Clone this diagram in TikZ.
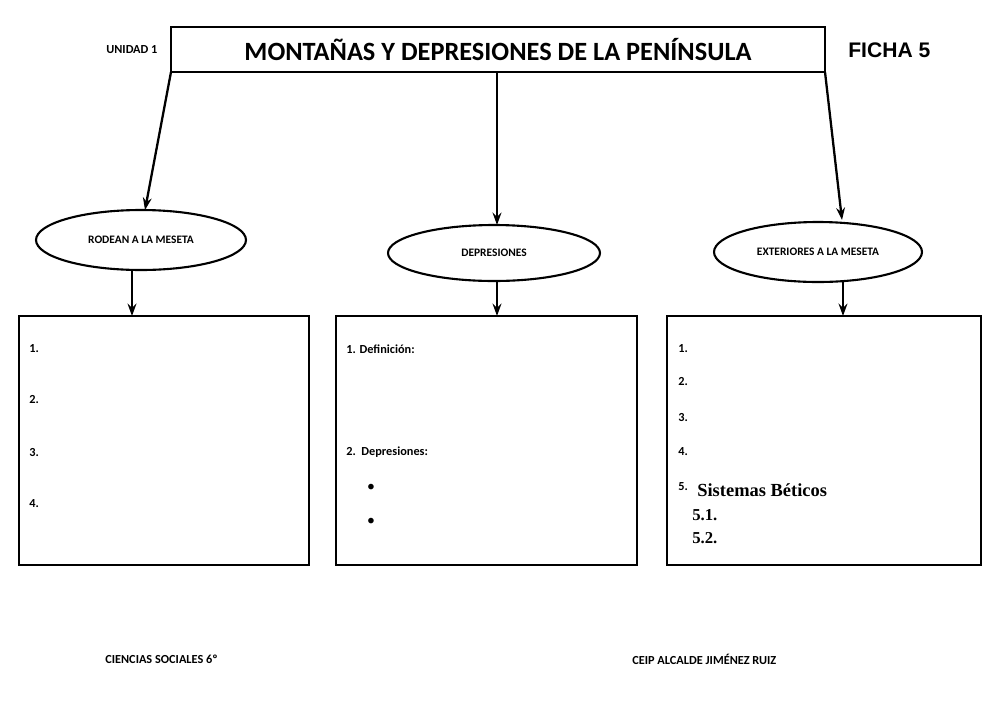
\documentclass[tikz,border=0pt]{standalone}
\usepackage{fontspec}
\setmainfont{Carlito}
\newfontfamily\serifb{Liberation Serif}
\newfontfamily\arialf{Liberation Sans}
\usetikzlibrary{shapes.geometric,arrows.meta}
\begin{document}
\begin{tikzpicture}[x=0.02cm,y=-0.02cm,
  arr/.style={draw,line width=1.3pt,-{Stealth[length=7pt,width=5pt]}},
  ell/.style={draw,line width=1.2pt,ellipse,inner sep=0pt,font=\bfseries\fontsize{6.5}{7}\selectfont},
  bx/.style={draw,line width=1.2pt,rectangle},
  lbl/.style={anchor=west,font=\bfseries\fontsize{7}{8}\selectfont,inner sep=0pt}]
\useasboundingbox (0,0) rectangle (1000,707);
\fill[white] (0,0) rectangle (1000,707);
\node[bx,minimum width=13.08cm,minimum height=0.9cm,font=\bfseries\fontsize{15}{17}\selectfont] (title) at (498,49.5) {MONTAÑAS Y DEPRESIONES DE LA PENÍNSULA};
\node[lbl] (u) at (106,50) {UNIDAD 1};
\node[anchor=west,inner sep=0pt,font=\arialf\bfseries\fontsize{12}{14}\selectfont] (f) at (848,50) {FICHA 5};
\node[ell,minimum width=4.2cm,minimum height=1.2cm] (e1) at (141,240) {RODEAN A LA MESETA};
\node[ell,minimum width=4.24cm,minimum height=1.12cm] (e2) at (494,253) {DEPRESIONES};
\node[ell,minimum width=4.16cm,minimum height=1.2cm] (e3) at (818,252) {EXTERIORES A LA MESETA};
\coordinate (t1) at (171,72); \coordinate (t2) at (497,72); \coordinate (t3) at (825,72);
\coordinate (h1) at (145,210); \coordinate (h2) at (497,225); \coordinate (h3) at (842,220);
\draw[arr] (t1) -- (h1);
\draw[arr] (t2) -- (h2);
\draw[arr] (t3) -- (h3);
\node[bx,minimum width=5.8cm,minimum height=4.98cm] (b1) at (164,440.5) {};
\node[bx,minimum width=6.02cm,minimum height=4.98cm] (b2) at (486.5,440.5) {};
\node[bx,minimum width=6.28cm,minimum height=4.98cm] (b3) at (824,440.5) {};
\coordinate (s1) at (132,271); \coordinate (d1) at (132,316);
\coordinate (s2) at (497,281); \coordinate (d2) at (497,316);
\coordinate (s3) at (843,282); \coordinate (d3) at (843,316);
\draw[arr] (s1) -- (d1);
\draw[arr] (s2) -- (d2);
\draw[arr] (s3) -- (d3);
\node[lbl] at (29,349) {1.};
\node[lbl] at (29,400) {2.};
\node[lbl] at (29,452) {3.};
\node[lbl] at (29,504) {4.};
\node[lbl] at (346,349) {1. Definición:};
\node[lbl] at (346,452) {2.\ \ Depresiones:};
\node[anchor=center,font=\fontsize{9}{10}\selectfont] at (371,488) {•};
\node[anchor=center,font=\fontsize{9}{10}\selectfont] at (371,522) {•};
\node[lbl] at (678,349) {1.};
\node[lbl] at (678,382) {2.};
\node[lbl] at (678,417) {3.};
\node[lbl] at (678,452) {4.};
\node[lbl] at (678,487) {5.};
\node[anchor=west,inner sep=0pt,font=\serifb\bfseries\fontsize{10.5}{12}\selectfont] at (697,490) {Sistemas Béticos};
\node[anchor=west,inner sep=0pt,font=\serifb\bfseries\fontsize{9.5}{11}\selectfont] at (692,515) {5.1.};
\node[anchor=west,inner sep=0pt,font=\serifb\bfseries\fontsize{9.5}{11}\selectfont] at (692,538) {5.2.};
\node[lbl] at (105,659) {CIENCIAS SOCIALES 6º};
\node[lbl] at (632,659) {CEIP ALCALDE JIMÉNEZ RUIZ};
\end{tikzpicture}
\end{document}
